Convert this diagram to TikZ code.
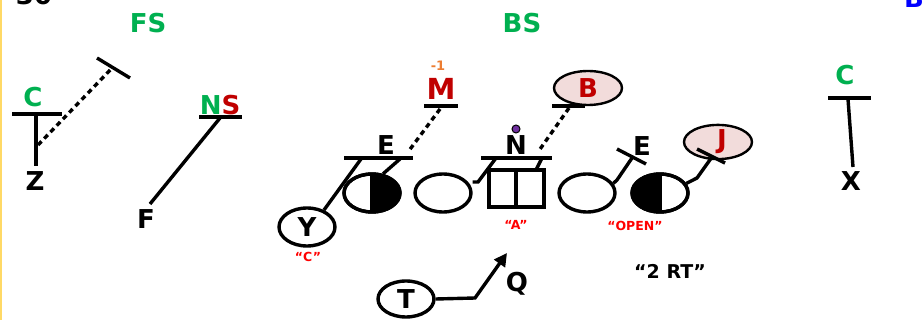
\documentclass[tikz,border=0pt]{standalone}
\usepackage{fontspec}
\setmainfont{DejaVu Sans}
\usetikzlibrary{shapes.geometric,arrows.meta}
\definecolor{fsgreen}{HTML}{00B050}
\definecolor{dred}{HTML}{C00000}
\definecolor{lred}{HTML}{FF0000}
\definecolor{orng}{HTML}{ED7D31}
\definecolor{pinkfill}{HTML}{F2DCDB}
\definecolor{purp}{HTML}{7030A0}
\definecolor{blu}{HTML}{0000FF}
\definecolor{yel}{HTML}{FFD966}
\begin{document}
\begin{tikzpicture}[x=1pt,y=-1pt,line width=3.4pt,
  lbl/.style={font=\bfseries\fontsize{26}{26}\selectfont,inner sep=0pt},
  glbl/.style={lbl,text=fsgreen},
  rlbl/.style={lbl,text=dred},
  small/.style={font=\bfseries\fontsize{12.5}{12.5}\selectfont,inner sep=0pt,text=lred},
  player/.style={draw,ellipse,minimum width=56pt,minimum height=38pt,inner sep=0pt,font=\bfseries\fontsize{26}{26}\selectfont},
  lb/.style={draw,ellipse,minimum width=68pt,minimum height=34pt,inner sep=0pt,fill=pinkfill,line width=2.4pt,text=dred,font=\bfseries\fontsize{26}{26}\selectfont},
  dsh/.style={dash pattern=on 5pt off 4pt}]
\useasboundingbox (0,0) rectangle (924,320);
\fill[white] (0,0) rectangle (924,320);
\draw[yel,line width=1.5pt] (1,0) -- (1,320);
% cut-off top texts
\node[lbl,anchor=base] (num) at (34,5) {30};
\node[lbl,anchor=base,text=blu] (bb) at (914,8) {B};
% headings
\node[glbl] (fs) at (148,23) {FS};
\node[glbl] (bs) at (522,23) {BS};
% left corner C / Z
\node[glbl] (cl) at (33,97) {C};
\coordinate (clL) at (12,114); \coordinate (clR) at (62,114);
\draw (clL) -- (clR);
\coordinate (clT) at (36,114); \coordinate (clB) at (36,166);
\draw (clT) -- (clB);
\node[lbl] (z) at (35,181) {Z};
\coordinate (fsA) at (38,145); \coordinate (fsB) at (113,67);
\draw[dsh] (fsA) -- (fsB);
\coordinate (fsT1) at (97,58); \coordinate (fsT2) at (130,78);
\draw (fsT1) -- (fsT2);
% NS / F
\node[lbl] (ns) at (220,105) {\textcolor{fsgreen}{N}\textcolor{dred}{S}};
\coordinate (nsL) at (199,117); \coordinate (nsR) at (242,117);
\draw (nsL) -- (nsR);
\coordinate (nsM) at (220,118); \coordinate (fEnd) at (150,204);
\draw (nsM) -- (fEnd);
\node[lbl] (f) at (146,219) {F};
% M
\node[lbl,font=\bfseries\fontsize{13}{13}\selectfont,text=orng] (m1) at (438,66) {-1};
\node[rlbl,font=\bfseries\fontsize{29}{29}\selectfont] (m) at (441,89) {M};
\coordinate (mL) at (424,106); \coordinate (mR) at (458,106);
\draw (mL) -- (mR);
\coordinate (mA) at (440,109); \coordinate (mB) at (408,152);
\draw[dsh] (mA) -- (mB);
% left E
\node[lbl] (e1) at (386,145) {E};
\coordinate (e1L) at (344,158); \coordinate (e1R) at (413,158);
\draw (e1L) -- (e1R);
% Y
\node[player] (y) at (307,227) {Y};
\node[small] (yc) at (308,257) {“C”};
\coordinate (e1a) at (361,159);
\draw (y.45) -- (e1a);
% half filled left ellipse
\node[player] (lt) at (372,193) {};
\begin{scope}
  \clip (372,170) rectangle (405,216);
  \fill (372,193) ellipse [x radius=28pt,y radius=19pt];
\end{scope}
\draw (372,174) -- (372,212);
\draw (372,193) ellipse [x radius=28pt,y radius=19pt];
\coordinate (e1b) at (400,159);
\draw (lt.60) -- (e1b);
% left guard
\node[player] (lg) at (443,193) {};
% N / center
\node[lbl] (n) at (516,145) {N};
\fill[purp] (516,129) circle (4pt);
\draw[line width=1pt] (516,129) circle (4pt);
\coordinate (nL) at (481,158); \coordinate (nR) at (552,158);
\draw (nL) -- (nR);
\draw (489,170) rectangle (544,207);
\draw (516,170) -- (516,207);
\coordinate (lgK) at (478,182);
\coordinate (nA) at (496,158);
\draw (lg.east |- lgK) -- (lgK) -- (nA);
\coordinate (nB) at (542,158); \coordinate (nBb) at (536,170);
\draw (nBb) -- (nB);
\node[small] (aa) at (516,225) {“A”};
% B
\node[lb] (b) at (588,88) {B};
\coordinate (bL) at (552,106); \coordinate (bR) at (585,106);
\draw (bL) -- (bR);
\coordinate (bA) at (569,108); \coordinate (bB) at (538,152);
\draw[dsh] (bA) -- (bB);
% right guard
\node[player] (rg) at (587,193) {};
\coordinate (rgK) at (617,180); \coordinate (rgT) at (632,158);
\draw (rg.20) -- (rgK) -- (rgT);
\coordinate (e2a) at (617,149); \coordinate (e2b) at (646,164);
\draw (e2a) -- (e2b);
\node[lbl] (e2) at (642,146) {E};
\node[small] (open) at (635,226) {“OPEN”};
% right half-filled
\node[player] (rt) at (660,193) {};
\begin{scope}
  \clip (630,170) rectangle (660,216);
  \fill (660,193) ellipse [x radius=28pt,y radius=19pt];
\end{scope}
\draw (660,174) -- (660,212);
\draw (660,193) ellipse [x radius=28pt,y radius=19pt];
% J
\node[lb] (j) at (718,142) {\hspace*{8pt}J};
\coordinate (rtK) at (697,178); \coordinate (rtT) at (712,157);
\draw (rt.20) -- (rtK) -- (rtT);
\coordinate (jA) at (697,149); \coordinate (jB) at (725,163);
\draw (jA) -- (jB);
% right C / X
\node[glbl] (cr) at (845,75) {C};
\coordinate (crL) at (828,98); \coordinate (crR) at (871,98);
\draw (crL) -- (crR);
\coordinate (crT) at (848,99); \coordinate (crB) at (853,167);
\draw (crT) -- (crB);
\node[lbl] (x) at (851,181) {X};
% T / Q
\node[player,minimum height=36pt] (t) at (406,299) {T};
\coordinate (tK) at (475,298); \coordinate (tA) at (507,253);
\draw[-{Triangle[length=13pt,width=13pt]}] (t.east) -- (tK) -- (tA);
\node[lbl] (q) at (517,284) {Q};
\node[lbl,font=\bfseries\fontsize{19}{19}\selectfont] (rt2) at (670,271) {“2 RT”};
\end{tikzpicture}
\end{document}
